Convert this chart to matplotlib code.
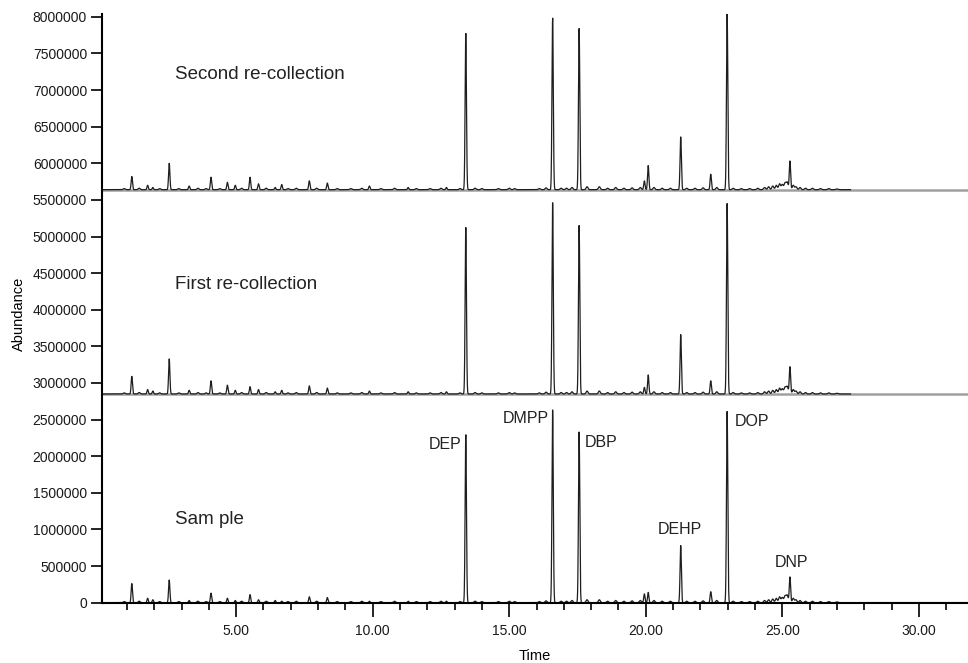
import numpy as np
import matplotlib.pyplot as plt
from matplotlib.ticker import MultipleLocator, FormatStrFormatter

# Retention times (min) of the resolved peaks, shared by all three runs
peak_times = [1.18, 1.76, 1.95, 2.55, 3.28, 4.08, 4.68, 4.97, 5.51, 5.82,
              6.43, 6.67, 7.68, 8.34, 9.88, 11.30, 12.70, 13.41, 16.59, 17.56,
              19.95, 20.09, 21.28, 22.38, 22.98, 25.28]

# Peak heights above baseline (x 1e6 counts)
sample_heights = [0.26, 0.06, 0.04, 0.31, 0.03, 0.13, 0.06, 0.03, 0.11, 0.04,
                  0.03, 0.02, 0.08, 0.07, 0.02, 0.02, 0.02, 2.30, 2.64, 2.33,
                  0.12, 0.14, 0.78, 0.15, 2.61, 0.35]
first_heights = [0.24, 0.06, 0.04, 0.48, 0.05, 0.18, 0.12, 0.05, 0.10, 0.06,
                 0.03, 0.05, 0.11, 0.08, 0.04, 0.03, 0.03, 2.28, 2.62, 2.30,
                 0.09, 0.26, 0.81, 0.18, 2.60, 0.37]
second_heights = [0.18, 0.06, 0.03, 0.36, 0.05, 0.17, 0.10, 0.06, 0.17, 0.08,
                  0.03, 0.07, 0.12, 0.09, 0.05, 0.03, 0.03, 2.14, 2.35, 2.20,
                  0.12, 0.33, 0.72, 0.21, 2.42, 0.39]

# Small baseline bumps (x 1e6), same pattern in every run
minor_times = [0.9, 1.45, 2.2, 2.9, 3.6, 3.9, 4.4, 5.2, 6.1, 6.9, 7.2, 7.95,
               8.7, 9.2, 9.6, 10.3, 10.8, 11.6, 12.1, 12.5, 13.2, 13.75, 14.0,
               14.6, 15.0, 15.2, 16.1, 16.35, 16.9, 17.1, 17.3, 17.85, 18.3,
               18.6, 18.9, 19.2, 19.5, 19.8, 20.3, 20.6, 20.9, 21.5, 21.8,
               22.1, 22.6, 23.2, 23.5, 23.8, 24.1, 24.35, 24.5, 24.65, 24.78,
               24.9, 25.0, 25.1, 25.18, 25.4, 25.5, 25.65, 25.85, 26.1, 26.4,
               26.7, 27.0]
minor_heights = [0.015, 0.02, 0.015, 0.015, 0.02, 0.015, 0.015, 0.02, 0.02,
                 0.015, 0.02, 0.02, 0.015, 0.015, 0.02, 0.015, 0.02, 0.015,
                 0.015, 0.02, 0.015, 0.02, 0.015, 0.015, 0.02, 0.015, 0.015,
                 0.025, 0.02, 0.02, 0.03, 0.04, 0.04, 0.02, 0.03, 0.02, 0.025,
                 0.03, 0.03, 0.02, 0.02, 0.02, 0.02, 0.025, 0.03, 0.02, 0.015,
                 0.015, 0.02, 0.03, 0.04, 0.05, 0.06, 0.08, 0.07, 0.09, 0.10,
                 0.06, 0.04, 0.03, 0.02, 0.02, 0.015, 0.015, 0.01]

# Stacking offsets of the three chromatograms
run_names = ["Sample", "First re-collection", "Second re-collection"]
run_offsets = [0.0, 2.85e6, 5.64e6]

peak_names = ["DEP", "DMPP", "DBP", "DEHP", "DOP", "DNP"]


def trace(t, times, heights, width):
    y = np.zeros_like(t)
    for t0, h in zip(times, heights):
        y += h * 1e6 * np.exp(-0.5 * ((t - t0) / width) ** 2)
    return y


t = np.arange(0.1, 27.5, 0.004)
noise = trace(t, minor_times, minor_heights, 0.035)

fig = plt.figure(figsize=(9.68, 6.63), dpi=100)
ax = fig.add_axes([0.1057, 0.091, 0.8943, 0.888])

font = "Liberation Sans"

xmax = 31.8
for heights, off in zip([sample_heights, first_heights, second_heights],
                        run_offsets):
    y = off + noise + trace(t, peak_times, heights, 0.024)
    if off > 0:
        ax.plot([0.1, xmax], [off, off], color="#a0a0a0", lw=1.8,
                solid_capstyle="butt", zorder=1)
    else:
        ax.plot([27.9, xmax], [0, 0], color="#111111", lw=2.2, zorder=1)
    ax.plot(t, y, color="#1e1e1e", lw=0.9, zorder=2)

ax.text(2.77, 7.21e6, "Second re-collection", family=font, fontsize=13.5,
        va="center", ha="left", color="#222222")
ax.text(2.77, 4.35e6, "First re-collection", family=font, fontsize=13.5,
        va="center", ha="left", color="#222222")
ax.text(2.77, 1.14e6, "Sam ple", family=font, fontsize=13.5,
        va="center", ha="left", color="#222222")

# Peak labels for the sample run
label_pos = {
    "DEP": (13.25, 2.16e6, "right"),
    "DMPP": (16.44, 2.52e6, "right"),
    "DBP": (17.75, 2.19e6, "left"),
    "DEHP": (21.24, 1.00e6, "center"),
    "DOP": (23.25, 2.47e6, "left"),
    "DNP": (25.33, 0.55e6, "center"),
}
for nm in peak_names:
    x, yv, ha = label_pos[nm]
    ax.text(x, yv, nm, family=font, fontsize=11.5, ha=ha, va="center",
            color="#222222")

ax.set_xlim(0.1, xmax)
ax.set_ylim(0, 8.04e6)

ax.xaxis.set_major_locator(MultipleLocator(5))
ax.xaxis.set_minor_locator(MultipleLocator(1))
ax.xaxis.set_major_formatter(FormatStrFormatter("%.2f"))
ax.yaxis.set_major_locator(MultipleLocator(500000))
ax.yaxis.set_major_formatter(FormatStrFormatter("%d"))

for lbl in ax.get_xticklabels() + ax.get_yticklabels():
    lbl.set_family(font)
    lbl.set_fontsize(10)
    lbl.set_color("#1a1a1a")

ax.tick_params(axis="y", length=8, width=1.2, pad=3)
ax.tick_params(axis="x", which="major", length=10, width=1.2, pad=5)
ax.tick_params(axis="x", which="minor", length=5, width=1.2)

for side in ["top", "right"]:
    ax.spines[side].set_visible(False)
for side in ["left", "bottom"]:
    ax.spines[side].set_linewidth(1.5)

ax.set_xlabel("Time", family=font, fontsize=10.5, labelpad=8)
ax.set_ylabel("Abundance", family=font, fontsize=10.5, labelpad=8)
ax.yaxis.set_label_coords(-0.088, 0.49)

fig.savefig("out.png", dpi=100)
